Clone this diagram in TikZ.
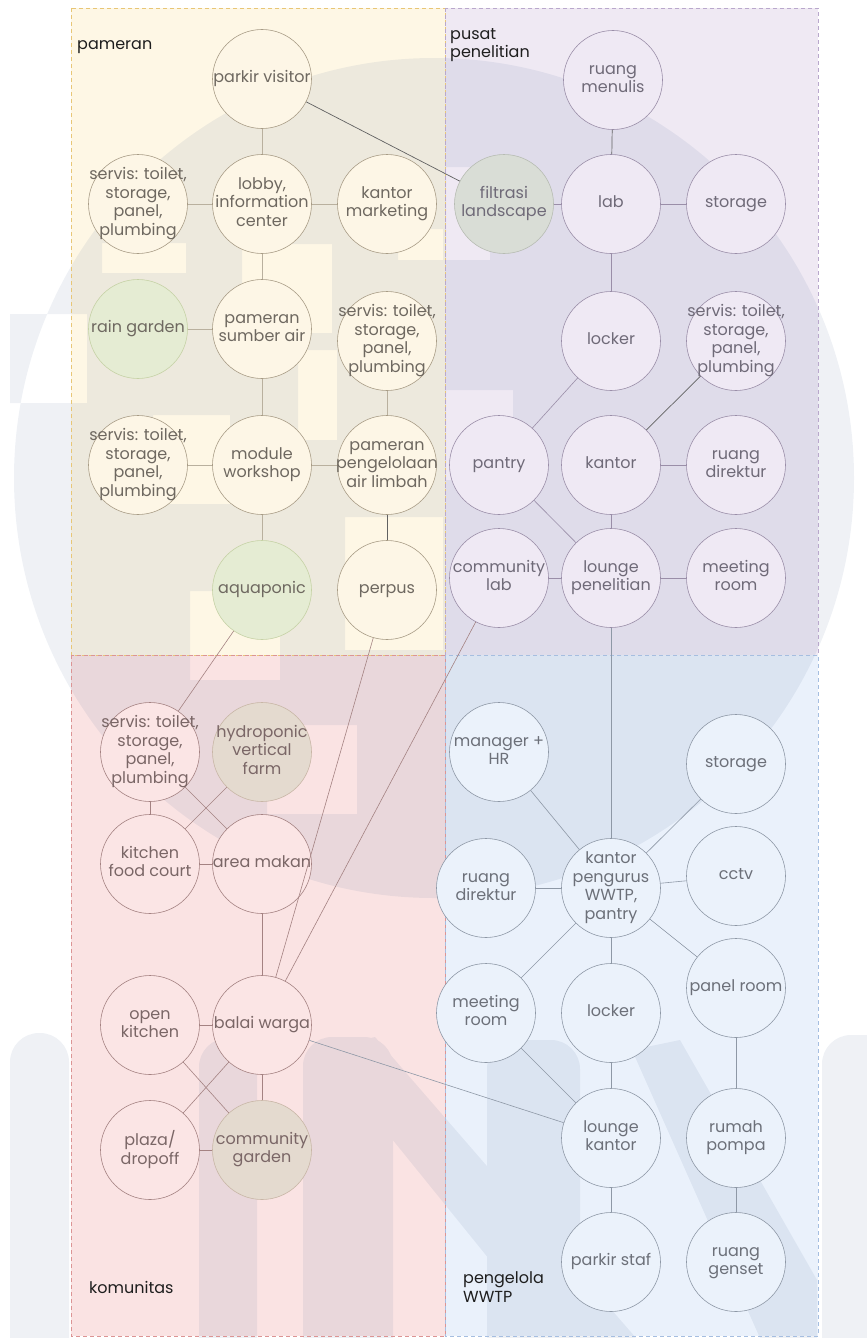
\documentclass[tikz,border=0pt]{standalone}
\usepackage{fontspec}
\setmainfont{Poppins}
% zone colours
\definecolor{pamzone}{HTML}{FEF7E5}
\definecolor{pamborder}{HTML}{E8C676}
\definecolor{puszone}{HTML}{EFE9F3}
\definecolor{pusborder}{HTML}{B9A8CC}
\definecolor{komzone}{HTML}{FAE3E3}
\definecolor{komborder}{HTML}{DC9494}
\definecolor{wwzone}{HTML}{EAF1FB}
\definecolor{wwborder}{HTML}{A6BEE0}
% node colours
\definecolor{pamnode}{HTML}{FDF6E6}
\definecolor{pamline}{HTML}{A89C86}
\definecolor{pamtext}{HTML}{6E6860}
\definecolor{pusnode}{HTML}{EFE9F4}
\definecolor{pusline}{HTML}{9A8EA8}
\definecolor{pustext}{HTML}{6F6A78}
\definecolor{komnode}{HTML}{FBE5E5}
\definecolor{komline}{HTML}{A48282}
\definecolor{komtext}{HTML}{7A6666}
\definecolor{wwnode}{HTML}{EBF2FB}
\definecolor{wwline}{HTML}{8E98A6}
\definecolor{wwtext}{HTML}{6C7079}
\definecolor{greennode}{HTML}{E5ECD3}
\definecolor{greenline}{HTML}{C6D2A6}
\definecolor{greynode}{HTML}{D9DDD6}
\definecolor{greyline}{HTML}{B7BCB3}
\definecolor{tannode}{HTML}{E4DACF}
\definecolor{tanline}{HTML}{C8B6A6}
\definecolor{wm}{RGB}{22,62,118}
\definecolor{labeltext}{HTML}{1E1E1E}
% room label: centred lines that may spill past the circle
\newcommand{\rt}[1]{\makebox[0pt]{\begin{tabular}{@{}c@{}}#1\end{tabular}}}
\begin{document}
\begin{tikzpicture}[x=1pt,y=-1pt,
  zone/.style={line width=0.8pt, dash pattern=on 4pt off 3pt},
  zonelabel/.style={anchor=west, align=left, text=labeltext,
    font=\fontsize{16}{18.5}\selectfont, inner sep=0pt},
  room/.style={circle, minimum size=99pt, inner sep=0pt,
    line width=0.6pt, font=\fontsize{16}{18.5}\selectfont},
  pam/.style={room, fill=pamnode, draw=pamline, text=pamtext},
  pus/.style={room, fill=pusnode, draw=pusline, text=pustext},
  kom/.style={room, fill=komnode, draw=komline, text=komtext},
  ww/.style={room, fill=wwnode, draw=wwline, text=wwtext},
  green/.style={fill=greennode, draw=greenline},
  greyfill/.style={fill=greynode, draw=greyline},
  tan/.style={fill=tannode, draw=tanline},
  link/.style={line width=0.6pt, draw=#1},
  link/.default={black!40},
  darklink/.style={line width=0.7pt, draw=black!62},
]
\useasboundingbox (0,0) rectangle (867,1338);

% ---- zones ----
\fill[pamzone] (71,8) rectangle (445,655);
\fill[puszone] (445,8) rectangle (818,655);
\fill[komzone] (71,655) rectangle (445,1336);
\fill[wwzone] (445,655) rectangle (818,1336);

% ---- faint logo behind the plan ----
\begin{scope}
\clip (0,0) rectangle (867,1338);
\begin{scope}[transparency group, opacity=0.07]
% disc with square cut-outs
\fill[wm, even odd rule] (434,478) circle[radius=420pt]
  (102,243) rectangle (186,273)
  (242,244) rectangle (332,333)
  (398,229) rectangle (443,260)
  (446,167) rectangle (490,260)
  (10,314) rectangle (87,403)
  (298,350) rectangle (337,440)
  (153,415) rectangle (230,504)
  (446,390) rectangle (513,480)
  (190,591) rectangle (280,680)
  (345,517) rectangle (443,650)
  (267,725) rectangle (357,814);
% letters along the bottom
\fill[wm, rounded corners=29pt] (10,1033) rectangle (69,1400);
\fill[wm, rounded corners=29pt] (199,1038) rectangle (257,1400);
\fill[wm, rounded corners=29pt] (303,1037) rectangle (393,1400);
\fill[wm, rounded corners=29pt] (487,1040) rectangle (580,1400);
\fill[wm, rounded corners=29pt] (822,1035) rectangle (900,1400);
\fill[wm] (320,1050) -- (375,1037) -- (636,1338) -- (553,1338) -- cycle;
\fill[wm] (632,1050) -- (680,1040) -- (817,1280) -- (817,1338) -- (760,1338) -- cycle;
\end{scope}
\end{scope}

\draw[zone, pamborder] (71,8) rectangle (445,655);
\draw[zone, pusborder] (445,8) rectangle (818,655);
\draw[zone, komborder] (71,655) rectangle (445,1336);
\draw[zone, wwborder] (445,655) rectangle (818,1336);

% ---- zone labels ----
\node[zonelabel] (lblpam) at (77,47) {pameran};
\node[zonelabel] (lblpus) at (450,45) {pusat\\penelitian};
\node[zonelabel] (lblkom) at (89,1287) {komunitas};
\node[zonelabel] (lblww) at (463,1287) {pengelola\\WWTP};

% ---- pameran ----
\node[pam] (pv)  at (262,79)  {\rt{parkir visitor}};
\node[pam] (lob) at (262,204) {\rt{lobby,\\information\\center}};
\node[pam] (sv1) at (138,204) {\rt{servis: toilet,\\storage,\\panel,\\plumbing}};
\node[pam] (km)  at (387,204) {\rt{kantor\\marketing}};
\node[pam, green] (rg) at (138,329) {\rt{rain garden}};
\node[pam] (psa) at (262,329) {\rt{pameran\\sumber air}};
\node[pam] (sv2) at (387,341) {\rt{servis: toilet,\\storage,\\panel,\\plumbing}};
\node[pam] (sv3) at (138,465) {\rt{servis: toilet,\\storage,\\panel,\\plumbing}};
\node[pam] (mw)  at (262,465) {\rt{module\\workshop}};
\node[pam] (ppl) at (387,465) {\rt{pameran\\pengelolaan\\air limbah}};
\node[pam, green] (aq) at (262,590) {\rt{aquaponic}};
\node[pam] (pp)  at (387,590) {\rt{perpus}};

% ---- pusat penelitian ----
\node[pus] (rm)  at (613,80)  {\rt{ruang\\menulis}};
\node[pus, greyfill] (fl) at (504,204) {\rt{filtrasi\\landscape}};
\node[pus] (lab) at (611,204) {\rt{lab}};
\node[pus] (st1) at (736,204) {\rt{storage}};
\node[pus] (lk1) at (611,341) {\rt{locker}};
\node[pus] (sv4) at (736,341) {\rt{servis: toilet,\\storage,\\panel,\\plumbing}};
\node[pus] (pan) at (499,465) {\rt{pantry}};
\node[pus] (kan) at (611,465) {\rt{kantor}};
\node[pus] (rd1) at (736,465) {\rt{ruang\\direktur}};
\node[pus] (cl)  at (499,578) {\rt{community\\lab}};
\node[pus] (lp)  at (611,578) {\rt{lounge\\penelitian}};
\node[pus] (mr1) at (736,578) {\rt{meeting\\room}};

% ---- komunitas ----
\node[kom] (sv5) at (150,752) {\rt{servis: toilet,\\storage,\\panel,\\plumbing}};
\node[kom, tan] (hy) at (262,752) {\rt{hydroponic\\vertical\\farm}};
\node[kom] (kfc) at (150,864) {\rt{kitchen\\food court}};
\node[kom] (am)  at (262,864) {\rt{area makan}};
\node[kom] (ok)  at (150,1025) {\rt{open\\kitchen}};
\node[kom] (bw)  at (262,1025) {\rt{balai warga}};
\node[kom] (pl)  at (150,1150) {\rt{plaza/\\dropoff}};
\node[kom, tan] (cg) at (262,1150) {\rt{community\\garden}};

% ---- pengelola WWTP ----
\node[ww] (mhr) at (499,752) {\rt{manager +\\HR}};
\node[ww] (st2) at (736,764) {\rt{storage}};
\node[ww] (rd2) at (486,888) {\rt{ruang\\direktur}};
\node[ww] (kp)  at (611,888) {\rt{kantor\\pengurus\\WWTP,\\pantry}};
\node[ww] (cc)  at (736,876) {\rt{cctv}};
\node[ww] (pr)  at (736,988) {\rt{panel room}};
\node[ww] (mr2) at (486,1013) {\rt{meeting\\room}};
\node[ww] (lk2) at (611,1013) {\rt{locker}};
\node[ww] (lkt) at (611,1138) {\rt{lounge\\kantor}};
\node[ww] (rp)  at (736,1138) {\rt{rumah\\pompa}};
\node[ww] (ps)  at (611,1262) {\rt{parkir staf}};
\node[ww] (gs)  at (736,1262) {\rt{ruang\\genset}};

% ---- connections: pameran ----
\draw[link=pamline!80] (pv) -- (lob);
\draw[darklink] (pv) -- (fl);
\draw[link=pamline!80] (sv1) -- (lob);
\draw[link=pamline!80] (lob) -- (km);
\draw[link=pamline!80] (lob) -- (psa);
\draw[link=pamline!80] (rg) -- (psa);
\draw[link=pamline!80] (psa) -- (mw);
\draw[link=pamline!80] (sv3) -- (mw);
\draw[link=pamline!80] (mw) -- (ppl);
\draw[link=pamline!80] (sv2) -- (ppl);
\draw[darklink] (ppl) -- (pp);
\draw[link=pamline!80] (mw) -- (aq);
\draw[link=komline] (aq) -- (sv5);
\draw[link=komline] (pp) -- (bw);
\draw[link=komline] (cl) -- (bw);

% ---- connections: pusat penelitian ----
\draw[darklink] (rm) -- (lab);
\draw[link=pusline] (fl) -- (lab);
\draw[link=pusline] (lab) -- (st1);
\draw[link=pusline] (lab) -- (lk1);
\draw[link=pusline] (lk1) -- (pan);
\draw[darklink] (kan) -- (sv4);
\draw[link=pusline] (kan) -- (rd1);
\draw[link=pusline] (kan) -- (lp);
\draw[link=pusline] (pan) -- (lp);
\draw[link=pusline] (cl) -- (lp);
\draw[link=pusline] (lp) -- (mr1);
\draw[link=wwline] (lp) -- (kp);

% ---- connections: komunitas ----
\draw[link=komline] (sv5) -- (kfc);
\draw[link=komline] (sv5) -- (am);
\draw[link=komline] (hy) -- (kfc);
\draw[link=komline] (kfc) -- (am);
\draw[link=komline] (am) -- (bw);
\draw[link=komline] (ok) -- (bw);
\draw[link=komline] (ok) -- (cg);
\draw[link=komline] (bw) -- (pl);
\draw[link=komline] (bw) -- (cg);
\draw[link=komline] (pl) -- (cg);
\draw[link=wwline] (bw) -- (lkt);

% ---- connections: pengelola WWTP ----
\draw[link=wwline] (mhr) -- (kp);
\draw[link=wwline] (st2) -- (kp);
\draw[link=wwline] (rd2) -- (kp);
\draw[link=wwline] (cc) -- (kp);
\draw[link=wwline] (kp) -- (mr2);
\draw[link=wwline] (kp) -- (lk2);
\draw[link=wwline] (kp) -- (pr);
\draw[link=wwline] (mr2) -- (lkt);
\draw[link=wwline] (lk2) -- (lkt);
\draw[link=wwline] (pr) -- (rp);
\draw[link=wwline] (lkt) -- (ps);
\draw[link=wwline] (rp) -- (gs);
\end{tikzpicture}
\end{document}
